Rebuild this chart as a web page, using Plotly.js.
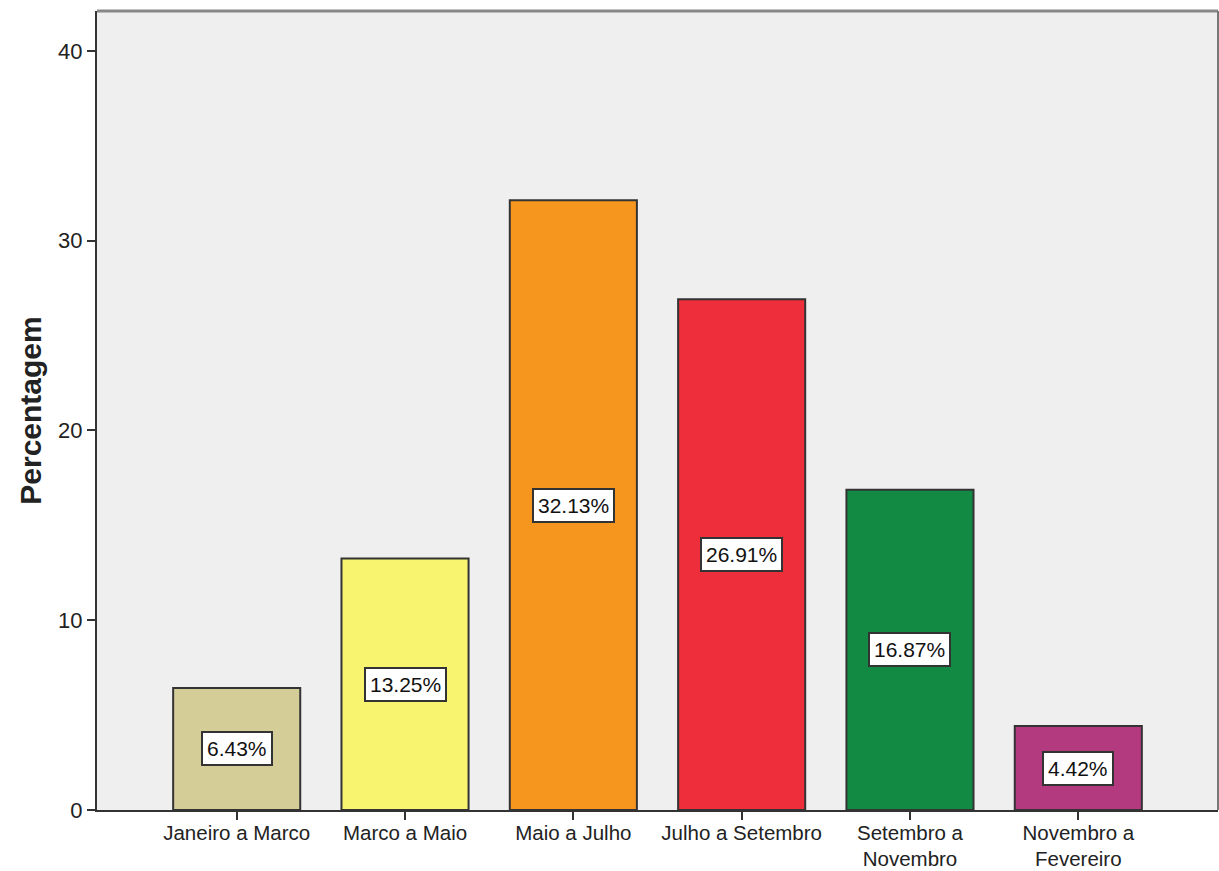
<!DOCTYPE html>
<html>
<head>
<meta charset="utf-8">
<script src="https://cdn.plot.ly/plotly-3.0.1.min.js"></script>
<style>html,body{margin:0;padding:0;background:#fff;}#chart{width:1219px;height:871px;}</style>
</head>
<body>
<div id="chart"></div>
<script>
const categories = ["Janeiro a Marco", "Marco a Maio", "Maio a Julho", "Julho a Setembro", "Setembro a<br>Novembro", "Novembro a<br>Fevereiro"];
const values = [6.43, 13.25, 32.13, 26.91, 16.87, 4.42];
const barColors = ["#d4cd98", "#f9f46f", "#f7961e", "#ee2e3a", "#138a44", "#b43a80"];
const yTickVals = [0, 10, 20, 30, 40];

const trace = {
  type: "bar",
  x: categories,
  y: values,
  width: 0.755,
  marker: {color: barColors, line: {color: "#333333", width: 2}},
  hoverinfo: "none"
};

const annotations = categories.map((c, i) => ({
  x: c, y: values[i] / 2, xref: "x", yref: "y",
  text: values[i].toFixed(2) + "%",
  showarrow: false,
  bgcolor: "#ffffff",
  bordercolor: "#333333",
  borderwidth: 2,
  borderpad: 4,
  font: {family: "Liberation Sans, Arial, sans-serif", size: 21, color: "#111"}
}));

const layout = {
  width: 1219, height: 871,
  margin: {l: 97, r: 1, t: 11, b: 61},
  paper_bgcolor: "#ffffff",
  plot_bgcolor: "#efefef",
  showlegend: false,
  font: {family: "Liberation Sans, Arial, sans-serif", size: 20, color: "#222"},
  xaxis: {
    range: [-0.83, 5.83],
    showline: true, linecolor: "#333", linewidth: 2,
    ticks: "outside", ticklen: 8, tickcolor: "#333", tickwidth: 2,
    tickfont: {size: 20.5, color: "#222"},
    ticklabelstandoff: -5,
    showgrid: false, zeroline: false, mirror: false
  },
  yaxis: {
    range: [0, 42.1],
    tickvals: yTickVals,
    showline: true, linecolor: "#333", linewidth: 2,
    ticks: "outside", ticklen: 8, tickcolor: "#333", tickwidth: 2,
    tickfont: {size: 22, color: "#222"},
    showgrid: false, zeroline: false,
    title: {text: "<b>Percentagem</b>", font: {size: 30, color: "#222"}, standoff: 8}
  },
  shapes: [
    {type: "line", xref: "paper", yref: "paper", x0: 0, x1: 1, y0: 1, y1: 1, line: {color: "#888", width: 3}},
    {type: "line", xref: "paper", yref: "paper", x0: 1, x1: 1, y0: 0, y1: 1, line: {color: "#777", width: 2}}
  ],
  annotations: annotations
};

Plotly.newPlot("chart", [trace], layout, {displayModeBar: false, staticPlot: true});
</script>
</body>
</html>
